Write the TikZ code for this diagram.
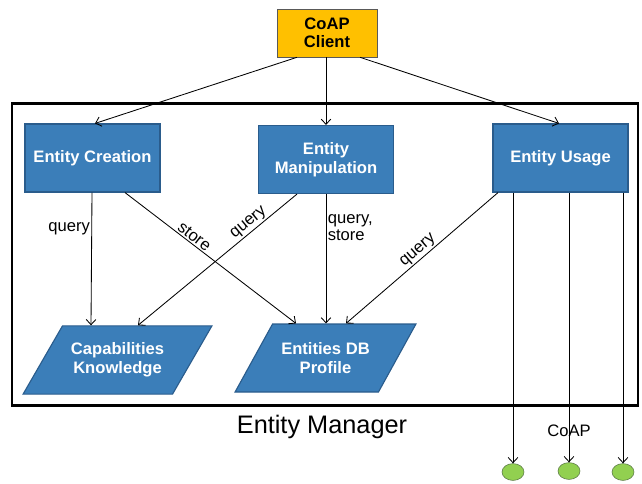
\documentclass[tikz,border=0pt]{standalone}
\usepackage{fontspec}
\setmainfont{Liberation Sans}
\usepackage{xcolor}
\usepackage{tikz}
\usetikzlibrary{shapes.geometric, arrows.meta, positioning, calc}

\definecolor{boxblue}{RGB}{59,126,185}
\definecolor{boxedge}{RGB}{42,92,140}
\definecolor{clientgold}{RGB}{255,192,0}
\definecolor{devgreen}{RGB}{146,208,80}
\definecolor{devedge}{RGB}{90,120,70}

\begin{document}
\begin{tikzpicture}[
        x=0.025cm, y=-0.025cm,
        client/.style={rectangle, draw=black!65, fill=clientgold, minimum width=2.5cm, minimum height=1.2cm, align=center, font=\fontsize{11.8}{13}\selectfont\bfseries},
        module/.style={rectangle, draw=boxedge, thick, fill=boxblue, minimum width=3.375cm, minimum height=1.7cm, align=center, text=white, font=\fontsize{11.8}{13.5}\selectfont\bfseries},
        store/.style={trapezium, trapezium left angle=60, trapezium right angle=120, trapezium stretches body, draw=boxedge, thick, fill=boxblue, minimum height=1.7cm, inner xsep=0pt, inner ysep=12pt, align=center, text=white, font=\fontsize{11.8}{13.5}\selectfont\bfseries},
        manager/.style={rectangle, draw=black, line width=1.5pt, minimum width=15.65cm, minimum height=7.55cm},
        device/.style={ellipse, draw=devedge, fill=devgreen, minimum width=0.55cm, minimum height=0.42cm, inner sep=0pt},
        lbl/.style={font=\fontsize{11.8}{12.5}\selectfont, inner sep=1pt},
        arrow/.style={-{Straight Barb[length=1.3mm, width=2.4mm]}, semithick}
    ]
        \useasboundingbox (0,0) rectangle (642,483);

        \node[manager] (mgr) at (325,254.5) {};
        \node[font=\fontsize{18}{20}\selectfont] (mgrname) at (322,427) {Entity Manager};

        \node[client] (client) at (327,33) {CoAP\\Client};

        \node[module] (create) at (92.5,158) {Entity Creation};
        \node[module] (manip) at (326,159.5) {Entity\\Manipulation};
        \node[module] (usage) at (560.5,158) {Entity Usage};

        \node[store, minimum width=4.72cm] (capab) at (117.5,360) {Capabilities\\Knowledge};
        \node[store, minimum width=4.52cm] (entdb) at (325.5,358) {Entities DB\\Profile};

        \node[device] (dev1) at (513,472) {};
        \node[device] (dev2) at (569,471) {};
        \node[device] (dev3) at (623,472) {};
        \node[lbl] (coap) at (569,431) {CoAP};

        % client to the three modules
        \draw[arrow] (client.south -| 297,0) -- (create.north -| 95,0);
        \draw[arrow] (client.south -| 326,0) -- (manip.north -| 326,0);
        \draw[arrow] (client.south -| 360,0) -- (usage.north -| 559,0);

        % modules to the stores
        \draw[arrow] (create.south -| 92,0) -- node[lbl, left, pos=0.27]{query} (capab.north -| 91,0);
        \draw[arrow] (create.south -| 125,0) -- node[lbl, sloped, above, pos=0.38]{store} (entdb.north -| 296,0);
        \draw[arrow] (manip.south -| 297,0) -- node[lbl, sloped, above, pos=0.27]{query} (capab.north -| 138,0);
        \draw[arrow] (manip.south) -- node[lbl, right, align=left, pos=0.26]{query,\\store} (manip.south |- entdb.north);
        \draw[arrow] (usage.south -| 498,0) -- node[lbl, sloped, above, pos=0.49]{query} (entdb.north -| 346,0);

        % usage out to the devices
        \draw[arrow] (usage.south -| dev1) -- (dev1.north);
        \draw[arrow] (usage.south -| dev2) -- (dev2.north);
        \draw[arrow] (usage.south -| dev3) -- (dev3.north);
    \end{tikzpicture}
\end{document}
